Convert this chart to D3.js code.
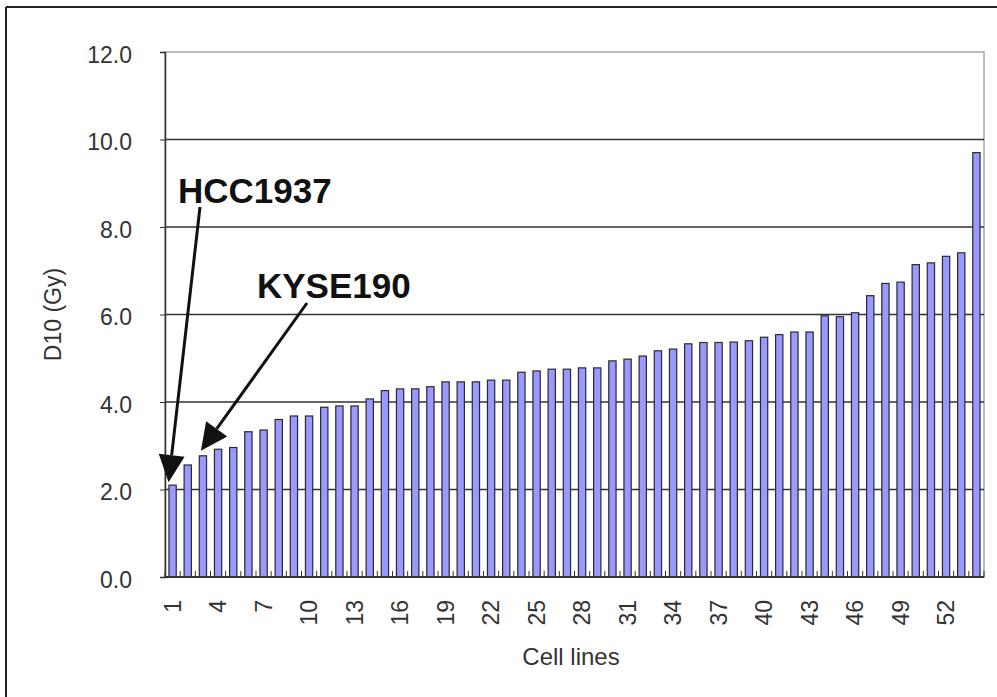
<!DOCTYPE html>
<html><head><meta charset="utf-8">
<script src="https://cdn.jsdelivr.net/npm/d3@7"></script>
<style>body{margin:0;background:#fff}svg{display:block}text{font-family:"Liberation Sans",Arial,sans-serif}</style>
</head><body>
<svg id="c" width="997" height="697"></svg>
<script>
const cellLines = d3.range(1, 55);
const d10Values = [2.10,2.56,2.77,2.92,2.96,3.32,3.36,3.60,3.68,3.68,
  3.88,3.91,3.91,4.07,4.26,4.30,4.30,4.35,4.46,4.46,
  4.46,4.50,4.50,4.68,4.71,4.75,4.75,4.78,4.78,4.94,
  4.98,5.05,5.17,5.21,5.33,5.36,5.36,5.37,5.40,5.48,
  5.54,5.60,5.60,5.97,5.95,6.04,6.43,6.71,6.74,7.14,
  7.18,7.33,7.41,9.70];
const xTickLabels = d3.range(1, 55, 3);
const yTickValues = [0, 2, 4, 6, 8, 10, 12];
const annotLabels = ["HCC1937", "KYSE190"];
const annotTargets = [1, 3];
const yTitle = "D10 (Gy)";
const xTitle = "Cell lines";

const svg = d3.select("#c");
const m = {l: 165, r: 984, t: 52, b: 577};
const x = d3.scaleBand().domain(cellLines).range([m.l, m.r]).paddingInner(0.52).paddingOuter(0.26);
const y = d3.scaleLinear().domain([0, 12]).range([m.b, m.t]);

// outer frame (top & left)
svg.append("line").attr("x1",6).attr("y1",7).attr("x2",997).attr("y2",7).attr("stroke","#222").attr("stroke-width",2);
svg.append("line").attr("x1",6).attr("y1",7).attr("x2",6).attr("y2",697).attr("stroke","#222").attr("stroke-width",2);

// plot border (gray top/right)
svg.append("rect").attr("x",m.l).attr("y",m.t).attr("width",m.r-m.l).attr("height",m.b-m.t)
  .attr("fill","none").attr("stroke","#a8a8a8").attr("stroke-width",1.5);

// gridlines
svg.append("g").selectAll("line").data(yTickValues.filter(v => v > 0 && v < 12)).join("line")
  .attr("x1", m.l).attr("x2", m.r).attr("y1", d => y(d)).attr("y2", d => y(d))
  .attr("stroke", "#333").attr("stroke-width", 1.3);

// bars
svg.append("g").selectAll("rect").data(d10Values).join("rect")
  .attr("x", (d, i) => x(cellLines[i]))
  .attr("y", d => y(d))
  .attr("width", x.bandwidth())
  .attr("height", d => y(0) - y(d))
  .attr("fill", "#9999ff").attr("stroke", "#2a2a2a").attr("stroke-width", 1.2);

// y axis
const yAxis = svg.append("g").attr("transform", `translate(${m.l},0)`)
  .call(d3.axisLeft(y).tickValues(yTickValues).tickFormat(d3.format(".1f")).tickSize(5).tickPadding(28));
yAxis.select(".domain").attr("stroke", "#333").attr("stroke-width", 1.5);
yAxis.selectAll(".tick line").attr("stroke", "#333");
yAxis.selectAll("text").attr("font-size", 23).attr("fill", "#333").attr("dy", "0.45em");

// x axis
const step = x.step();
const xAxis = svg.append("g").attr("transform", `translate(0,${m.b})`);
xAxis.append("line").attr("x1", m.l).attr("x2", m.r).attr("stroke", "#333").attr("stroke-width", 1.8);
xAxis.selectAll("line.mt").data(d3.range(0, 55)).join("line").attr("class","mt")
  .attr("x1", d => m.l + d * step).attr("x2", d => m.l + d * step)
  .attr("y1", 0).attr("y2", -6).attr("stroke", "#333");
xAxis.selectAll("text").data(xTickLabels).join("text")
  .attr("transform", d => `translate(${x(d) + x.bandwidth()/2},23) rotate(-90)`)
  .attr("text-anchor", "end").attr("dy", "0.36em")
  .attr("font-size", 23).attr("fill", "#333").text(d => d);

// titles
svg.append("text").attr("x", 571).attr("y", 665).attr("text-anchor", "middle")
  .attr("font-size", 24).attr("fill", "#333").text(xTitle);
svg.append("text").attr("transform", `translate(61,${(m.t + m.b) / 2}) rotate(-90)`)
  .attr("text-anchor", "middle").attr("font-size", 23).attr("fill", "#333").text(yTitle);

// annotations
const annot = [
  {tx: 178, ty: 203, sx: 200, sy: 207, off: [-4, 3]},
  {tx: 257, ty: 298, sx: 307, sy: 303, off: [-2, 1]}
];
annot.forEach((a, k) => {
  const i = annotTargets[k];
  const ex = x(i) + x.bandwidth()/2 + a.off[0];
  const ey = y(d10Values[i - 1]) + a.off[1] - 6;
  svg.append("text").attr("x", a.tx).attr("y", a.ty).attr("font-size", 35).attr("font-weight", "bold")
    .attr("fill", "#111").text(annotLabels[k]);
  const dx = ex - a.sx, dy = ey - a.sy, L = Math.hypot(dx, dy), ux = dx / L, uy = dy / L;
  const hl = 27, hw = 13;
  const bx = ex - ux * hl, by = ey - uy * hl;
  svg.append("line").attr("x1", a.sx).attr("y1", a.sy).attr("x2", bx).attr("y2", by)
    .attr("stroke", "#111").attr("stroke-width", 3);
  svg.append("path").attr("d", `M${ex},${ey}L${bx - uy*hw},${by + ux*hw}L${bx + uy*hw},${by - ux*hw}Z`).attr("fill", "#111");
});
</script>
</body></html>
